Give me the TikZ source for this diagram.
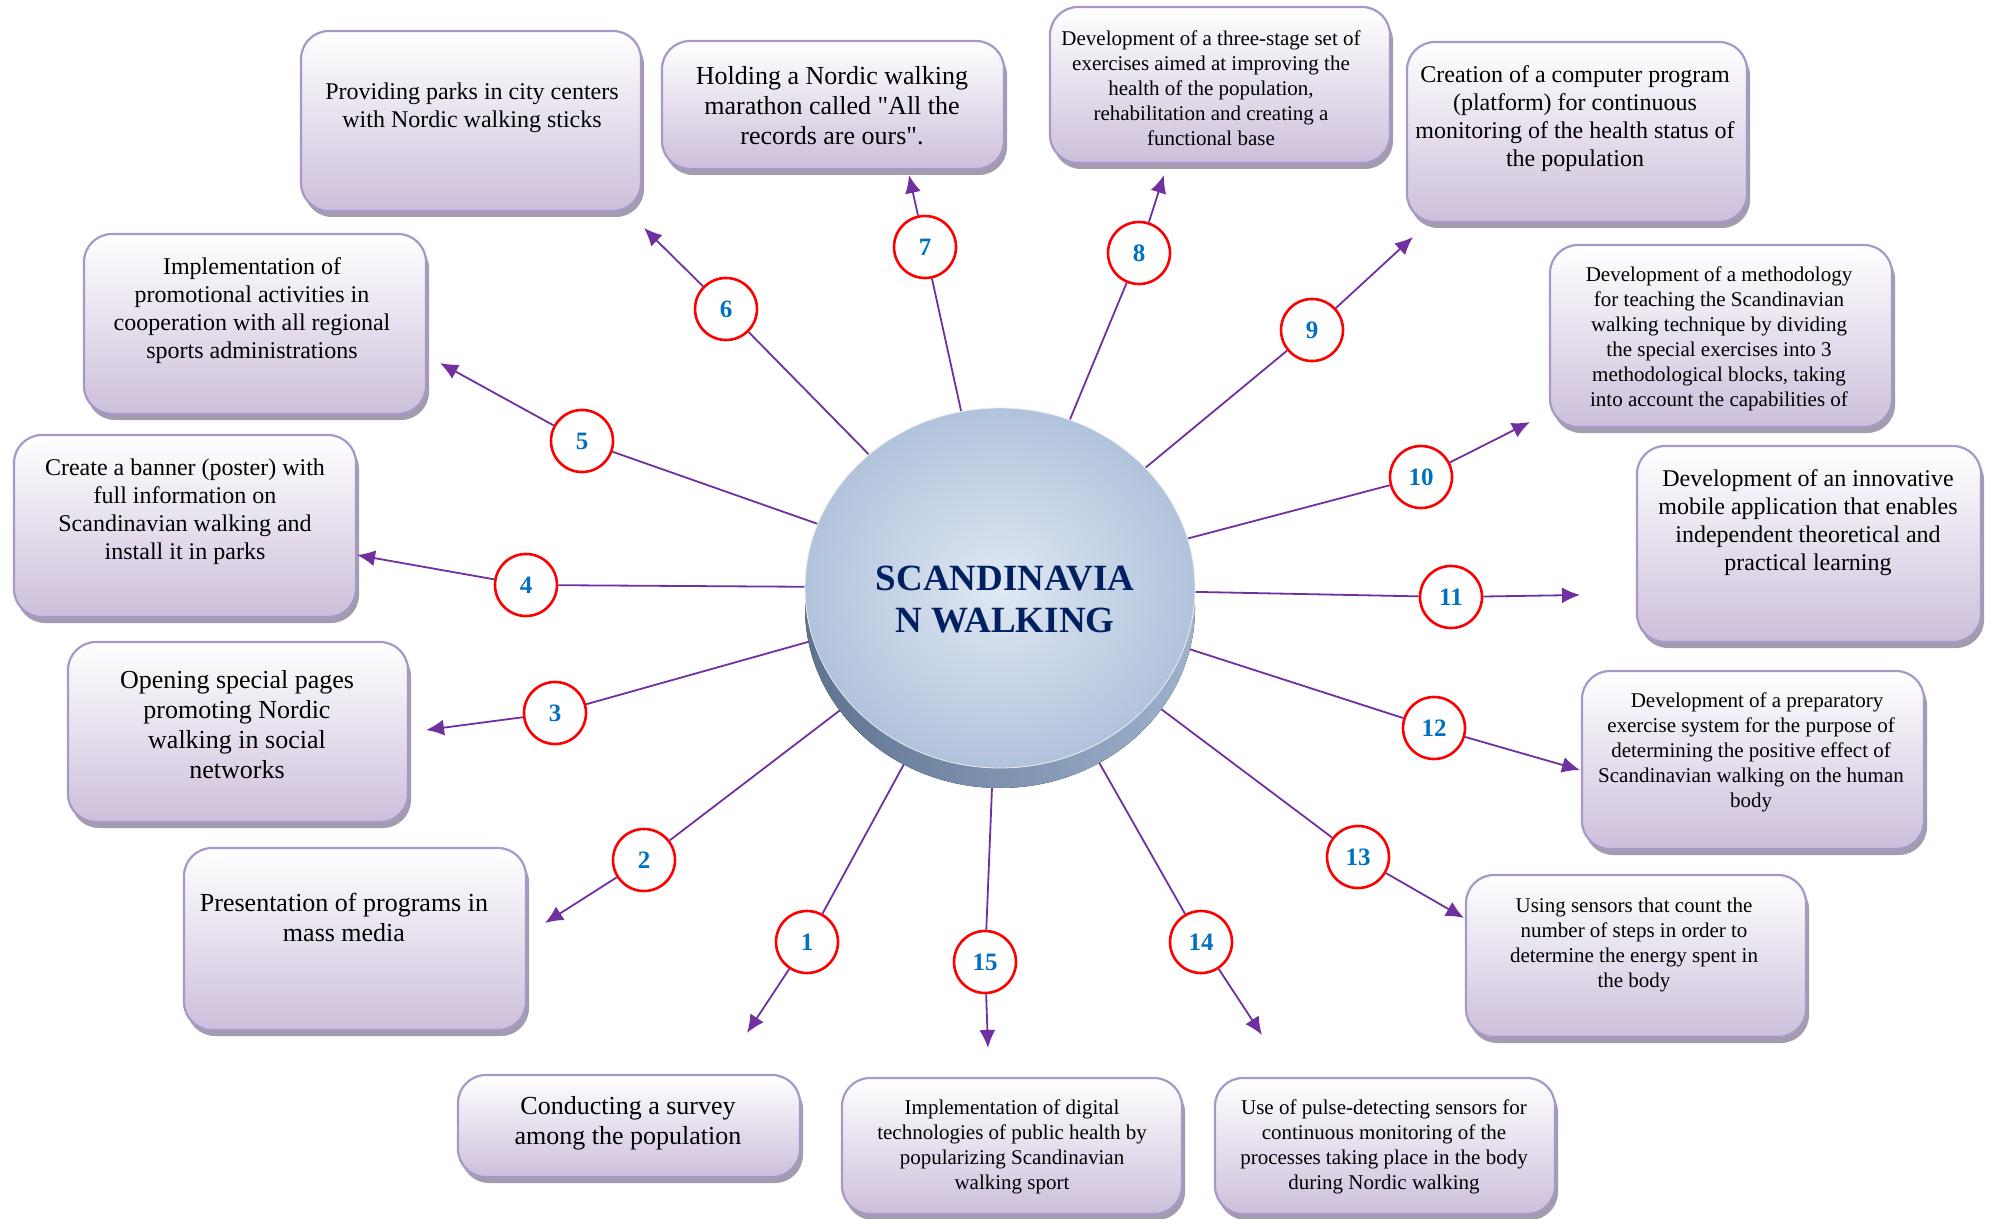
\documentclass[tikz,border=0pt]{standalone}
\usepackage{fontspec}
\setmainfont{Liberation Serif}[Ligatures=TeXOff]
\usetikzlibrary{arrows.meta,shapes.geometric,shadows,backgrounds}

\definecolor{linkpurple}{HTML}{7030A0}
\definecolor{numblue}{HTML}{0070C0}
\definecolor{titlenavy}{HTML}{002060}
\definecolor{boxlav}{HTML}{CDBFDB}
\definecolor{boxedge}{HTML}{A898C8}
\definecolor{boxshade}{HTML}{A39CAE}
\definecolor{disclight}{HTML}{E0E8F3}
\definecolor{discdark}{HTML}{B1C3DC}
\definecolor{sidedark}{HTML}{5E7391}
\definecolor{sidelight}{HTML}{9FB2CD}

\tikzset{
  idea/.style={rectangle, rounded corners=14pt, draw=boxedge, line width=1.1pt,
    top color=white, bottom color=boxlav, inner sep=0pt,
    drop shadow={shadow xshift=1.5pt, shadow yshift=-3pt, fill=boxshade, opacity=1}},
  bigtxt/.style={align=center, font=\fontsize{13}{15}\selectfont},
  midtxt/.style={align=center, font=\fontsize{12}{14}\selectfont},
  smalltxt/.style={align=center, font=\fontsize{10.5}{12.5}\selectfont},
  num/.style={circle, draw=red, line width=1.3pt, fill=white, minimum size=31pt,
    inner sep=0pt, text=numblue, font=\bfseries\fontsize{12.5}{12.5}\selectfont},
  link/.style={draw=linkpurple, line width=0.9pt},
  pointer/.style={link, -{Latex[length=9pt,width=8pt]}}
}

\begin{document}
\begin{tikzpicture}[x=0.5pt, y=-0.5pt]
\useasboundingbox (0,0) rectangle (1989,1219);

% central disc
\fill[left color=sidedark, right color=sidelight] (1000,608) ellipse [x radius=97.5pt, y radius=90pt];
\node[ellipse, minimum width=195pt, minimum height=180pt, inner sep=0pt,
  inner color=disclight, outer color=discdark, draw=white!85!gray, line width=0.4pt] (disc) at (1000,588) {};
\node[align=center, text=titlenavy, font=\bfseries\fontsize{18.5}{21}\selectfont] (title) at (1005,600)
  {SCANDINAVIA\\N WALKING};

% boxes
\node[idea, minimum width=171pt, minimum height=51pt] (b1) at (629,1126) {};
\node[idea, minimum width=171pt, minimum height=91pt] (b2) at (355,939) {};
\node[idea, minimum width=170pt, minimum height=90pt] (b3) at (238,732) {};
\node[idea, minimum width=171pt, minimum height=91pt] (b4) at (185,526) {};
\node[idea, minimum width=171pt, minimum height=90pt] (b5) at (255,324) {};
\node[idea, minimum width=170pt, minimum height=90pt] (b6) at (471,121) {};
\node[idea, minimum width=171pt, minimum height=64pt] (b7) at (833,105) {};
\node[idea, minimum width=170pt, minimum height=78pt] (b8) at (1220,85) {};
\node[idea, minimum width=170pt, minimum height=90pt] (b9) at (1577,132) {};
\node[idea, minimum width=171pt, minimum height=91pt] (b10) at (1721,336) {};
\node[idea, minimum width=172pt, minimum height=98pt] (b11) at (1809,544) {};
\node[idea, minimum width=171pt, minimum height=89pt] (b12) at (1753,760) {};
\node[idea, minimum width=170pt, minimum height=81pt] (b13) at (1636,956) {};
\node[idea, minimum width=170pt, minimum height=68pt] (b14) at (1385,1146) {};
\node[idea, minimum width=170pt, minimum height=68pt] (b15) at (1012,1146) {};

% box texts
\node[bigtxt] (t1) at (628,1123) {Conducting a survey\\among the population};
\node[bigtxt] (t2) at (344,917) {Presentation of programs in\\mass media};
\node[bigtxt] (t3) at (237,725) {Opening special pages\\promoting Nordic\\walking in social\\networks};
\node[midtxt] (t4) at (185,512) {Create a banner (poster) with\\full information on\\Scandinavian walking and\\install it in parks};
\node[midtxt] (t5) at (252,311) {Implementation of\\promotional activities in\\cooperation with all regional\\sports administrations};
\node[midtxt] (t6) at (472,108) {Providing parks in city centers\\with Nordic walking sticks};
\node[bigtxt] (t7) at (832,106) {Holding a Nordic walking\\marathon called "All the\\records are ours".};
\node[smalltxt] (t8) at (1211,88) {Development of a three-stage set of\\exercises aimed at improving the\\health of the population,\\rehabilitation and creating a\\functional base};
\node[midtxt] (t9) at (1575,119) {Creation of a computer program\\(platform) for continuous\\monitoring of the health status of\\the population};
\node[smalltxt] (t10) at (1719,339) {Development of a methodology\\for teaching the Scandinavian\\walking technique by dividing\\the special exercises into 3\\methodological blocks, taking\\into account the capabilities of};
\node[midtxt] (t11) at (1808,523) {Development of an innovative\\mobile application that enables\\independent theoretical and\\practical learning};
\node[smalltxt] (t12) at (1751,752) {\hspace*{6pt}Development of a preparatory\\exercise system for the purpose of\\determining the positive effect of\\Scandinavian walking on the human\\body};
\node[smalltxt] (t13) at (1634,945) {Using sensors that count the\\number of steps in order to\\determine the energy spent in\\the body};
\node[smalltxt] (t14) at (1384,1147) {Use of pulse-detecting sensors for\\continuous monitoring of the\\processes taking place in the body\\during Nordic walking};
\node[smalltxt] (t15) at (1012,1147) {Implementation of digital\\technologies of public health by\\popularizing Scandinavian\\walking sport};

% numbered circles
\node[num] (c1) at (807,942) {1};
\node[num] (c2) at (644,860) {2};
\node[num] (c3) at (555,713) {3};
\node[num] (c4) at (526,585) {4};
\node[num] (c5) at (582,441) {5};
\node[num] (c6) at (726,309) {6};
\node[num] (c7) at (925,247) {7};
\node[num] (c8) at (1139,253) {8};
\node[num] (c9) at (1312,330) {9};
\node[num] (c10) at (1421,477) {10};
\node[num] (c11) at (1451,597) {11};
\node[num] (c12) at (1434,728) {12};
\node[num] (c13) at (1358,857) {13};
\node[num] (c14) at (1201,942) {14};
\node[num] (c15) at (985,962) {15};

% arrow ends
\coordinate (e1) at (747,1033);
\coordinate (e2) at (545,923);
\coordinate (e3) at (426,730);
\coordinate (e4) at (357,555);
\coordinate (e5) at (440,363);
\coordinate (e6) at (644,228);
\coordinate (e7) at (909,175);
\coordinate (e8) at (1164,175);
\coordinate (e9) at (1413,237);
\coordinate (e10) at (1530,422);
\coordinate (e11) at (1580,595);
\coordinate (e12) at (1580,770);
\coordinate (e13) at (1464,918);
\coordinate (e14) at (1262,1035);
\coordinate (e15) at (988,1048);

% spokes behind the disc
\begin{scope}[on background layer]
    \draw[link] (disc) -- (c1);
    \draw[link] (disc) -- (c2);
    \draw[link] (disc) -- (c3);
    \draw[link] (disc) -- (c4);
    \draw[link] (disc) -- (c5);
    \draw[link] (disc) -- (c6);
    \draw[link] (disc) -- (c7);
    \draw[link] (disc) -- (c8);
    \draw[link] (disc) -- (c9);
    \draw[link] (disc) -- (c10);
    \draw[link] (disc) -- (c11);
    \draw[link] (disc) -- (c12);
    \draw[link] (disc) -- (c13);
    \draw[link] (disc) -- (c14);
    \draw[link] (disc) -- (c15);
\end{scope}

\draw[pointer] (c1) -- (e1);
\draw[pointer] (c2) -- (e2);
\draw[pointer] (c3) -- (e3);
\draw[pointer] (c4) -- (e4);
\draw[pointer] (c5) -- (e5);
\draw[pointer] (c6) -- (e6);
\draw[pointer] (c7) -- (e7);
\draw[pointer] (c8) -- (e8);
\draw[pointer] (c9) -- (e9);
\draw[pointer] (c10) -- (e10);
\draw[pointer] (c11) -- (e11);
\draw[pointer] (c12) -- (e12);
\draw[pointer] (c13) -- (e13);
\draw[pointer] (c14) -- (e14);
\draw[pointer] (c15) -- (e15);
\end{tikzpicture}
\end{document}
